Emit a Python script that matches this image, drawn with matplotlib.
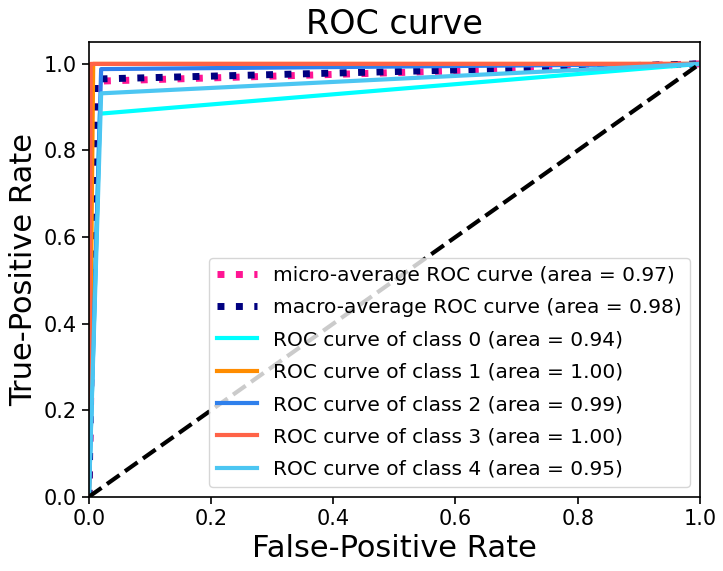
import matplotlib
matplotlib.use("Agg")
import matplotlib.pyplot as plt

# ROC points (false-positive rate, true-positive rate)
micro_fpr = [0.0, 0.012, 1.0]
micro_tpr = [0.0, 0.960, 1.0]
macro_fpr = [0.0, 0.010, 1.0]
macro_tpr = [0.0, 0.965, 1.0]

class_fpr = [
    [0.0, 0.018, 1.0],
    [0.0, 0.007, 1.0],
    [0.0, 0.020, 1.0],
    [0.0, 0.003, 1.0],
    [0.0, 0.020, 1.0],
]
class_tpr = [
    [0.0, 0.885, 1.0],
    [0.0, 1.000, 1.0],
    [0.0, 0.988, 1.0],
    [0.0, 1.000, 1.0],
    [0.0, 0.932, 1.0],
]
class_auc = [0.94, 1.00, 0.99, 1.00, 0.95]
micro_auc = 0.97
macro_auc = 0.98

colors = ["aqua", "darkorange", "#2f80ec", "tomato", "#4cc6f2"]

fig = plt.figure(figsize=(7.23, 5.71), dpi=100)
ax = fig.add_axes([0.123, 0.130, 0.845, 0.796])

ax.plot(micro_fpr, micro_tpr, color="deeppink", linestyle=":", linewidth=5,
        label="micro-average ROC curve (area = {0:0.2f})".format(micro_auc))
ax.plot(macro_fpr, macro_tpr, color="navy", linestyle=":", linewidth=5,
        label="macro-average ROC curve (area = {0:0.2f})".format(macro_auc))

for i, color in enumerate(colors):
    ax.plot(class_fpr[i], class_tpr[i], color=color, lw=3,
            label="ROC curve of class {0} (area = {1:0.2f})".format(i, class_auc[i]))

ax.plot([0, 1], [0, 1], "k--", lw=3)

ax.set_xlim(0.0, 1.0)
ax.set_ylim(0.0, 1.05)
ax.tick_params(labelsize=15, length=5, width=1.2)
ax.set_xlabel("False-Positive Rate", fontsize=22)
ax.set_ylabel("True-Positive Rate", fontsize=22)
ax.set_title("ROC curve", fontsize=24)
for s in ax.spines.values():
    s.set_linewidth(1.2)
ax.legend(loc="lower right", fontsize=14.5, handlelength=2.0, labelspacing=0.66)

fig.savefig("out.png", dpi=100)
